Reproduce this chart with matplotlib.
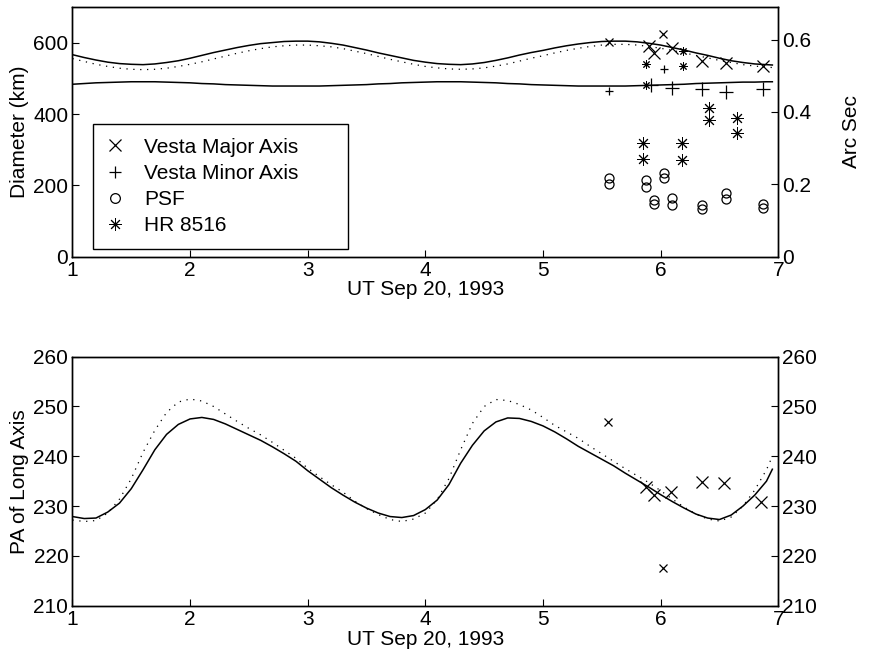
import numpy as np
import matplotlib
matplotlib.use("Agg")
import matplotlib.pyplot as plt
from matplotlib.lines import Line2D

plt.rcParams['font.family'] = ['Liberation Sans', 'DejaVu Sans']
plt.rcParams['font.size'] = 15

# model curves, hours UT on Sep 20
t_model = [1.0, 1.1, 1.2, 1.3, 1.4, 1.5, 1.6, 1.7, 1.8, 1.9,
           2.0, 2.1, 2.2, 2.3, 2.4, 2.5, 2.6, 2.7, 2.8, 2.9,
           3.0, 3.1, 3.2, 3.3, 3.4, 3.5, 3.6, 3.7, 3.8, 3.9,
           4.0, 4.1, 4.2, 4.3, 4.4, 4.5, 4.6, 4.7, 4.8, 4.9,
           5.0, 5.1, 5.2, 5.3, 5.4, 5.5, 5.6, 5.7, 5.8, 5.9,
           6.0, 6.1, 6.2, 6.3, 6.4, 6.5, 6.6, 6.7, 6.8, 6.9, 6.95]

major_model = [567, 559, 552, 546, 542, 540, 539, 541, 545, 550,
               557, 565, 573, 580, 587, 593, 598, 601, 604, 605,
               605, 603, 599, 594, 587, 580, 572, 565, 558, 551,
               546, 542, 540, 539, 541, 545, 551, 558, 566, 573,
               579, 586, 592, 597, 601, 604, 605, 605, 603, 599,
               594, 587, 580, 572, 565, 557, 550, 545, 541, 539, 538]

major_model2 = [556, 548, 540, 534, 529, 526, 525, 526, 529, 534,
                540, 547, 555, 563, 571, 578, 584, 589, 592, 594,
                594, 592, 589, 584, 577, 570, 562, 554, 547, 540,
                534, 530, 527, 526, 527, 530, 535, 541, 549, 557,
                564, 572, 579, 585, 590, 594, 596, 596, 594, 590,
                585, 579, 572, 565, 558, 551, 545, 539, 535, 532, 531]

minor_model = [484, 486, 488, 489, 490, 491, 491, 491, 490, 489,
               488, 486, 485, 483, 482, 481, 480, 479, 479, 479,
               479, 479, 480, 481, 482, 483, 485, 486, 488, 489,
               490, 491, 491, 491, 490, 489, 488, 486, 485, 483,
               482, 481, 480, 479, 479, 479, 479, 479, 480, 481,
               482, 483, 484, 486, 487, 488, 489, 490, 490, 491, 491]

pa_model = [227.9, 227.5, 227.6, 228.8, 230.6, 233.5, 237.3, 241.3, 244.4, 246.4,
            247.5, 247.8, 247.4, 246.5, 245.4, 244.3, 243.2, 241.9, 240.5, 239.0,
            237.1, 235.4, 233.7, 232.2, 230.8, 229.6, 228.6, 227.9, 227.7, 228.1,
            229.3, 231.2, 234.3, 238.6, 242.2, 245.1, 246.9, 247.7, 247.6, 247.0,
            246.1, 244.9, 243.5, 242.0, 240.7, 239.4, 238.1, 236.6, 235.2, 233.8,
            232.3, 230.9, 229.6, 228.4, 227.6, 227.3, 228.2, 230.0, 232.2, 235.0, 237.4]

pa_model2 = [227.2, 226.9, 227.1, 228.6, 231.4, 235.5, 240.8, 245.2, 248.8, 250.9,
             251.5, 251.1, 250.0, 248.5, 247.0, 245.6, 244.3, 242.8, 241.2, 239.6,
             237.6, 235.9, 234.3, 232.8, 231.0, 229.5, 228.3, 227.3, 226.9, 227.4,
             228.6, 231.3, 235.5, 241.3, 246.6, 250.0, 251.4, 251.2, 250.4, 249.3,
             247.8, 246.2, 244.9, 243.6, 242.0, 240.5, 239.0, 237.5, 236.1, 234.7,
             233.1, 231.4, 229.8, 228.4, 227.4, 227.0, 227.8, 230.0, 233.2, 237.3, 240.0]

# measurements
major_t = [5.90, 5.94, 6.10, 6.35, 6.56, 6.87]
major_d = [590, 571, 587, 550, 543, 536]
major_t_s = [5.565, 6.02]
major_d_s = [602, 624]

minor_t = [5.92, 6.10, 6.35, 6.56, 6.87]
minor_d = [481, 474, 472, 461, 470]
minor_t_s = [5.565, 6.03]
minor_d_s = [466, 527]

psf_t = [5.565, 5.565, 5.88, 5.88, 5.94, 5.94, 6.03, 6.03,
         6.10, 6.10, 6.35, 6.35, 6.56, 6.56, 6.87, 6.87]
psf_d = [221, 204, 214, 197, 160, 148, 236, 220,
         165, 145, 146, 135, 180, 162, 147, 136]

hr_t = [5.85, 5.85, 6.18, 6.18, 6.41, 6.41, 6.65, 6.65]
hr_d = [318, 274, 319, 271, 416, 385, 390, 346]
hr_t_s = [5.88, 5.88, 6.19, 6.19]
hr_d_s = [540, 481, 578, 536]

pa_t = [5.88, 5.94, 6.09, 6.35, 6.54, 6.85]
pa_v = [233.9, 232.2, 232.8, 234.9, 234.6, 230.9]
pa_t_s = [5.556, 6.02]
pa_v_s = [246.9, 217.6]

km_per_arcsec = 700 / 0.689

asterisk = (8, 2, 0)
pt = dict(color='k', linestyle='none', markeredgewidth=0.9)
pt_thin = dict(color='k', linestyle='none', markeredgewidth=0.7)

fig = plt.figure(figsize=(8.71, 6.57), dpi=100)
ax1 = fig.add_axes([0.0832, 0.6093, 0.8103, 0.3796])
ax2 = fig.add_axes([0.0832, 0.0781, 0.8103, 0.379])


def style(ax):
    ax.tick_params(direction='in', length=5, width=0.8, labelsize=15, pad=3)
    for s in ax.spines.values():
        s.set_linewidth(1.0)


# --- diameters
ax1.plot(t_model, major_model, 'k-', lw=1.1)
ax1.plot(t_model, major_model2, 'k', lw=0.9, linestyle=(0, (1, 4.5)))
ax1.plot(t_model, minor_model, 'k-', lw=1.1)

ax1.plot(major_t, major_d, marker='x', markersize=9, **pt)
ax1.plot(major_t_s, major_d_s, marker='x', markersize=6, **pt)
ax1.plot(minor_t, minor_d, marker='+', markersize=9.5, **pt)
ax1.plot(minor_t_s, minor_d_s, marker='+', markersize=6, **pt)
ax1.plot(psf_t, psf_d, marker='o', markersize=6.5, markerfacecolor='none', **pt)
ax1.plot(hr_t, hr_d, marker=asterisk, markersize=9, **pt_thin)
ax1.plot(hr_t_s, hr_d_s, marker=asterisk, markersize=6, **pt_thin)

ax1.set_xlim(1, 7)
ax1.set_ylim(0, 700)
ax1.set_xticks(range(1, 8))
ax1.set_yticks([0, 200, 400, 600])
ax1.set_xlabel('UT Sep 20, 1993', labelpad=0)
ax1.set_ylabel('Diameter (km)', labelpad=3)
style(ax1)

r1 = ax1.twinx()
r1.set_ylim(0, 700 / km_per_arcsec)
r1.set_yticks([0, 0.2, 0.4, 0.6])
r1.set_yticklabels(['0', '0.2', '0.4', '0.6'])
r1.set_ylabel('Arc Sec', labelpad=22)
style(r1)

handles = [
    Line2D([], [], marker='x', markersize=9, **pt),
    Line2D([], [], marker='+', markersize=9, **pt),
    Line2D([], [], marker='o', markersize=7, markerfacecolor='none', **pt),
    Line2D([], [], marker=asterisk, markersize=9, **pt_thin),
]
leg = ax1.legend(handles, ['Vesta Major Axis', 'Vesta Minor Axis', 'PSF', 'HR 8516'],
                 loc='lower left', bbox_to_anchor=(0.029, 0.031, 0.361, 0.5),
                 mode='expand', fancybox=False, framealpha=1, edgecolor='k',
                 handlelength=0.8, handletextpad=1.0, labelspacing=0.35,
                 borderpad=0.65, borderaxespad=0, fontsize=15)
leg.get_frame().set_linewidth(1.0)

# --- position angle
ax2.plot(t_model, pa_model, 'k-', lw=1.1)
ax2.plot(t_model, pa_model2, 'k', lw=0.9, linestyle=(0, (1, 4.5)))
ax2.plot(pa_t, pa_v, marker='x', markersize=9, **pt)
ax2.plot(pa_t_s, pa_v_s, marker='x', markersize=6, **pt)

ax2.set_xlim(1, 7)
ax2.set_ylim(210, 260)
ax2.set_xticks(range(1, 8))
ax2.set_yticks(range(210, 261, 10))
ax2.set_xlabel('UT Sep 20, 1993', labelpad=1)
ax2.set_ylabel('PA of Long Axis', labelpad=3)
style(ax2)

r2 = ax2.twinx()
r2.set_ylim(210, 260)
r2.set_yticks(range(210, 261, 10))
style(r2)

fig.savefig('out.png', dpi=100)
